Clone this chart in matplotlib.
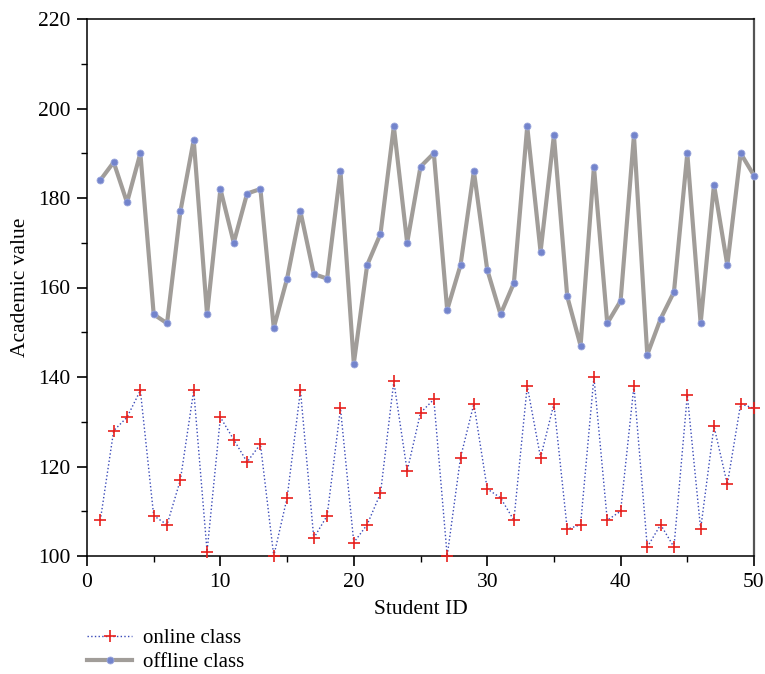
import matplotlib.pyplot as plt
import numpy as np
from matplotlib.ticker import MultipleLocator

plt.rcParams['font.family'] = ['Liberation Serif', 'DejaVu Serif']
plt.rcParams['xtick.labelsize'] = 15.5
plt.rcParams['ytick.labelsize'] = 15.5
plt.rcParams['axes.labelsize'] = 15.5

student_id = np.arange(1, 51)
online = [108, 128, 131, 137, 109, 107, 117, 137, 101, 131,
          126, 121, 125, 100, 113, 137, 104, 109, 133, 103,
          107, 114, 139, 119, 132, 135, 100, 122, 134, 115,
          113, 108, 138, 122, 134, 106, 107, 140, 108, 110,
          138, 102, 107, 102, 136, 106, 129, 116, 134, 133]
offline = [184, 188, 179, 190, 154, 152, 177, 193, 154, 182,
           170, 181, 182, 151, 162, 177, 163, 162, 186, 143,
           165, 172, 196, 170, 187, 190, 155, 165, 186, 164,
           154, 161, 196, 168, 194, 158, 147, 187, 152, 157,
           194, 145, 153, 159, 190, 152, 183, 165, 190, 185]

fig = plt.figure(figsize=(7.65, 6.74), dpi=100)
ax = fig.add_axes([87 / 765, 1 - 556 / 674, 667 / 765, 537 / 674])

ax.plot(student_id, online, color='#3a4ab8', linestyle=':', linewidth=1.0,
        marker='+', markersize=8, markeredgecolor='#e8201c',
        markeredgewidth=1.2, clip_on=False, label='online class', zorder=3)
ax.plot(student_id, offline, color='#a19d99', linewidth=3.0,
        marker='o', markersize=5, markerfacecolor='#7384cc',
        markeredgecolor='#9aa6dc', markeredgewidth=0.6,
        clip_on=False, label='offline class', zorder=3)

ax.set_xlim(0, 50)
ax.set_ylim(100, 220)
ax.xaxis.set_major_locator(MultipleLocator(10))
ax.xaxis.set_minor_locator(MultipleLocator(5))
ax.yaxis.set_major_locator(MultipleLocator(20))
ax.yaxis.set_minor_locator(MultipleLocator(10))
ax.tick_params(which='major', direction='out', length=7, width=1.2, pad=5)
ax.tick_params(which='minor', direction='out', length=4, width=1.0)
for side in ['left', 'bottom', 'top']:
    ax.spines[side].set_linewidth(1.1)
ax.spines['right'].set_linewidth(1.6)
ax.spines['right'].set_color('#555555')

ax.set_xlabel('Student ID', labelpad=6)
ax.set_ylabel('Academic value', labelpad=6)

fig.legend(loc='upper left', bbox_to_anchor=(72 / 765, 1 - 614 / 674),
           frameon=False, fontsize=15, handlelength=2.2,
           labelspacing=0.2, handletextpad=0.5, borderpad=0.2)

fig.savefig('out.png', dpi=100)
